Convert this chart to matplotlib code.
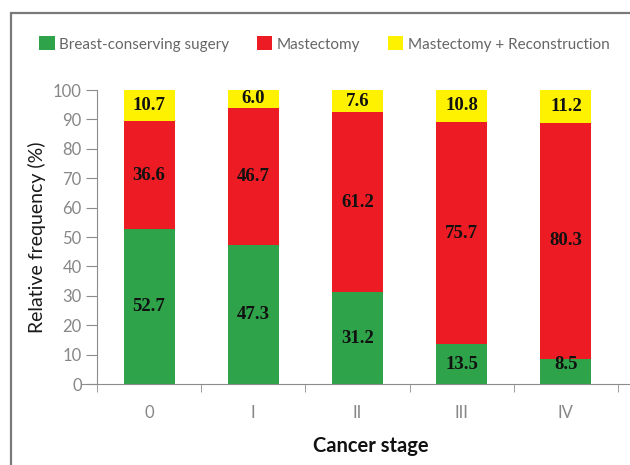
import matplotlib
matplotlib.use("Agg")
import matplotlib.pyplot as plt
from matplotlib.patches import Rectangle, Patch

stages = ["0", "I", "II", "III", "IV"]
bcs = [52.7, 47.3, 31.2, 13.5, 8.5]
mastectomy = [36.6, 46.7, 61.2, 75.7, 80.3]
mast_recon = [10.7, 6.0, 7.6, 10.8, 11.2]

series_names = ["Breast-conserving sugery", "Mastectomy", "Mastectomy + Reconstruction"]
colors = ["#2ea34a", "#ed1c24", "#fff200"]

plt.rcParams["font.family"] = ["Lato", "DejaVu Sans"]

fig = plt.figure(figsize=(6.3, 4.65), dpi=100)
ax = fig.add_axes([97 / 630, 1 - 384 / 465, 5.25 * 104.2 / 630, 294 / 465])

x = list(range(len(stages)))
bottom = [0.0] * len(stages)
for vals, col in zip([bcs, mastectomy, mast_recon], colors):
    ax.bar(x, vals, width=0.49, bottom=bottom, color=col, zorder=2)
    for xi, b, v in zip(x, bottom, vals):
        ypos = max(b + v / 2, b + 6.5) if b == 0 else b + v / 2
        ax.text(xi, ypos, f"{v:.1f}", ha="center", va="center",
                family="Liberation Serif", fontweight="bold", fontsize=13.5,
                color="#111111", zorder=3)
    bottom = [b + v for b, v in zip(bottom, vals)]

ax.set_xlim(-0.5, 4.75)
ax.set_ylim(0, 100)
ax.set_yticks(range(0, 101, 10))
ax.set_xticks(x)
ax.set_xticklabels(stages)
ax.set_xticks([i - 0.5 for i in range(len(stages) + 1)], minor=True)

grey = "#8c8c8c"
for side in ["top", "right"]:
    ax.spines[side].set_visible(False)
ax.spines["left"].set_color(grey)
ax.spines["bottom"].set_color(grey)
ax.spines["bottom"].set_bounds(-0.655, 4.75)
ax.tick_params(axis="y", direction="out", length=8, color=grey, labelcolor="#878787",
               labelsize=12, pad=3)
ax.tick_params(axis="x", which="major", length=0, labelcolor="#878787", labelsize=12, pad=15)
ax.tick_params(axis="x", which="minor", direction="out", length=6, color=grey)

ax.set_ylabel("Relative frequency (%)", fontsize=14, color="#1a1a1a", labelpad=5)
ax.set_xlabel("Cancer stage", fontsize=14.5, fontweight="bold", color="#111111", labelpad=11)

handles = [Patch(facecolor=c, edgecolor="none") for c in colors]
fig.legend(handles, series_names, loc="center", bbox_to_anchor=(0.515, 1 - 44 / 465),
           ncol=3, frameon=False, fontsize=11, handlelength=1.0, handleheight=1.0,
           handletextpad=0.3, columnspacing=1.8, labelcolor="#666666")

# outer frame around the chart panel
frame = Rectangle((11 / 630, -0.1), 1.2, 0.972 + 0.1, transform=fig.transFigure,
                  fill=False, edgecolor="#7a7a7a", linewidth=1.6, clip_on=False)
fig.patches.append(frame)

fig.savefig("out.png", dpi=100)
